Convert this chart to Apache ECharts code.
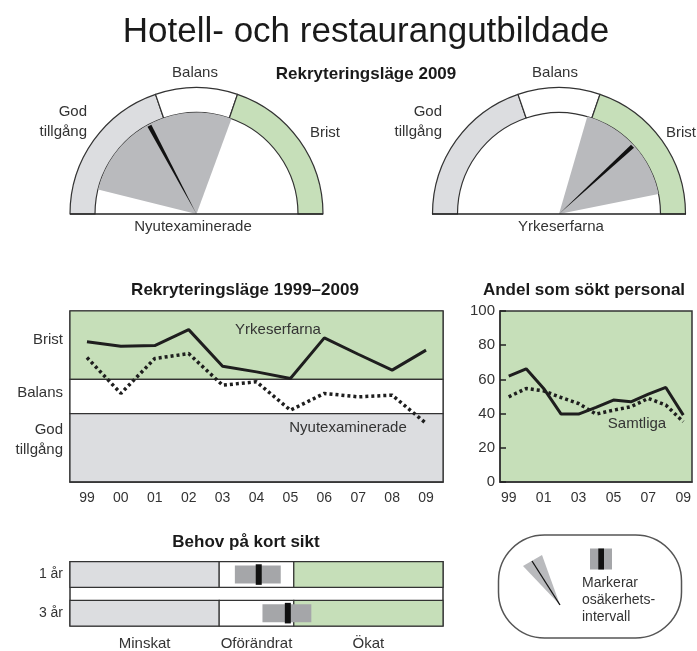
<!DOCTYPE html>
<html>
<head>
<meta charset="UTF-8">
<title>Hotell- och restaurangutbildade</title>
<script type="text/javascript" src="https://cdn.jsdelivr.net/npm/echarts@6/dist/echarts.min.js"></script>
<style>html,body{margin:0;padding:0;background:#fff}</style>
</head>
<body>
<div id="main" style="width:697px;height:651px"></div>
<script type="text/javascript">
// data
var years = ['99','00','01','02','03','04','05','06','07','08','09'];
var yrkeserfarna = [82, 79.4, 79.8, 89.1, 67.7, 64.4, 60.5, 84.3, 74.7, 65.4, 77.1];
var nyutexaminerade = [72.8, 51.8, 72.2, 75.1, 56.6, 58.6, 42, 51.8, 49.8, 50.8, 34.3];
var andelBransch = [61.9, 66.2, 54.7, 39.7, 39.7, 43.6, 47.9, 46.9, 51.4, 55.3, 39.1];
var andelSamtliga = [49.8, 54.7, 53.3, 49.4, 45.9, 39.7, 42, 44, 48.9, 45, 35.2];
var levelNames = ['Brist', 'Balans', 'God\ntillgång'];
var levelLabelAt = [83, 52, 24.5];
var levelBands = [40, 60];
var gaugeBands = [39.5, 60.5];
// 2009: [undre, läge, övre], 0 = god tillgång, 100 = brist
var gaugeNyutex = [7.8, 34.4, 61.2];
var gaugeYrkes = [59, 76.3, 93.7];
var behovRows = ['1 år', '3 år'];
var behovLo = [44.2, 51.6];
var behovValue = [50.6, 58.4];
var behovHi = [56.5, 64.7];
var behovNames = ['Minskat', 'Oförändrat', 'Ökat'];
var behovLabelAt = [20, 50, 80];

var GREEN = '#c6dfb9', GRAY = '#dcdde0', SECTOR = '#b9babd', BOX = '#a5a6a9', INK = '#1e1e1e', TXT = '#333';
var FONT = '"Liberation Sans", Arial, sans-serif';
var NONE = 'rgba(0,0,0,0)';

var myChart = echarts.init(document.getElementById('main'));

function gaugeSeries(center, g) {
    var deg = 1.8, w = 1.4;
    var base = {type: 'pie', center: center, silent: true, animation: false,
        label: {show: false}, labelLine: {show: false}, emphasis: {disabled: true}};
    var band = Object.assign({}, base, {
        radius: [101.5, 126.5], startAngle: 180,
        itemStyle: {borderColor: '#333', borderWidth: 1.2},
        data: [
            {value: gaugeBands[0], itemStyle: {color: GRAY}},
            {value: gaugeBands[1] - gaugeBands[0], itemStyle: {color: '#fff'}},
            {value: 100 - gaugeBands[1], itemStyle: {color: GREEN}},
            {value: 100, itemStyle: {color: NONE, borderWidth: 0}}
        ]
    });
    var sector = Object.assign({}, base, {
        radius: [0, 101.5], startAngle: 180 - g[0] * deg,
        data: [
            {value: g[2] - g[0], itemStyle: {color: SECTOR}},
            {value: 200 - (g[2] - g[0]), itemStyle: {color: NONE}}
        ]
    });
    var needle = Object.assign({}, base, {
        radius: [0, 100], startAngle: 180 - (g[1] - w / 2) * deg,
        data: [
            {value: w, itemStyle: {color: '#111'}},
            {value: 200 - w, itemStyle: {color: NONE}}
        ]
    });
    return [band, sector, needle];
}

function txt(x, y, s, size, opt) {
    opt = opt || {};
    return {type: 'text', x: x, y: y, silent: true, z: 10, style: {
        text: s, fontSize: size, fontFamily: FONT, fontWeight: opt.bold ? 'bold' : 'normal',
        fill: opt.fill || TXT, align: opt.align || 'center', verticalAlign: 'middle',
        lineHeight: opt.lh || size + 3
    }};
}

function renderBehov(params, api) {
    var row = api.value(0);
    var y0 = row * 0.6, y1 = y0 + 0.4;
    var top = api.coord([0, y0])[1], bot = api.coord([0, y1])[1];
    var h = bot - top;
    var edges = [0, levelBands[0], levelBands[1], 100];
    var cols = [GRAY, '#fff', GREEN];
    var children = [];
    for (var i = 0; i < 3; i++) {
        var xa = api.coord([edges[i], y0])[0], xb = api.coord([edges[i + 1], y0])[0];
        children.push({type: 'rect', shape: {x: xa, y: top, width: xb - xa, height: h},
            style: {fill: cols[i], stroke: '#333', lineWidth: 1.2}});
    }
    var lo = api.coord([api.value(1), y0])[0], hi = api.coord([api.value(3), y0])[0];
    var v = api.coord([api.value(2), y0])[0];
    children.push({type: 'rect', shape: {x: lo, y: top + h * 0.15, width: hi - lo, height: h * 0.7}, style: {fill: BOX}});
    children.push({type: 'rect', shape: {x: v - 3, y: top + h * 0.1, width: 6, height: h * 0.8}, style: {fill: '#111'}});
    return {type: 'group', children: children};
}

var axisText = {color: TXT, fontSize: 14, fontFamily: FONT};

option = {
    animation: false,
    grid: [
        {left: 70, top: 311, width: 373, height: 171, show: true, borderColor: '#333', borderWidth: 1.5, backgroundColor: '#fff'},
        {left: 500, top: 311, width: 192, height: 171, show: true, borderColor: '#333', borderWidth: 1.5, backgroundColor: GREEN},
        {left: 70, top: 561.7, width: 373, height: 66.6, show: true, borderColor: '#333', borderWidth: 1.5, backgroundColor: '#fff'}
    ],
    xAxis: [
        {gridIndex: 0, type: 'category', data: years, boundaryGap: true, z: 5,
            axisLine: {lineStyle: {color: '#333', width: 1.5}},
            axisTick: {inside: true, length: 7, interval: 0, lineStyle: {color: '#222', width: 1.5}},
            axisLabel: Object.assign({margin: 9, interval: 0}, axisText)},
        {gridIndex: 1, type: 'category', data: years, boundaryGap: true, z: 5,
            axisLine: {lineStyle: {color: '#333', width: 1.5}},
            axisTick: {inside: true, length: 6, interval: 0, lineStyle: {color: '#222', width: 1.5}},
            axisLabel: Object.assign({margin: 9, interval: 1}, axisText)},
        {gridIndex: 2, type: 'value', min: 0, max: 100,
            axisLine: {show: false}, axisTick: {show: false}, splitLine: {show: false},
            axisLabel: Object.assign({}, axisText, {margin: 10, customValues: behovLabelAt, fontSize: 15,
                formatter: function (v) { return behovNames[behovLabelAt.indexOf(v)]; }})}
    ],
    yAxis: [
        {gridIndex: 0, type: 'value', min: 0, max: 100,
            axisLine: {show: false}, axisTick: {show: false}, splitLine: {show: false},
            axisLabel: Object.assign({}, axisText, {fontSize: 15, margin: 7, customValues: levelLabelAt, lineHeight: 20,
                formatter: function (v) { return levelNames[levelLabelAt.indexOf(v)]; }})},
        {gridIndex: 1, type: 'value', min: 0, max: 100, interval: 20, z: 5,
            axisLine: {show: true, lineStyle: {color: '#333', width: 1.5}},
            axisTick: {show: true, inside: true, length: 6, lineStyle: {color: '#222', width: 1.5}},
            splitLine: {show: false},
            axisLabel: Object.assign({}, axisText, {fontSize: 15, margin: 5})},
        {gridIndex: 2, type: 'value', min: 0, max: 1, inverse: true,
            axisLine: {show: false}, axisTick: {show: false}, splitLine: {show: false},
            axisLabel: Object.assign({}, axisText, {margin: 7,
                customValues: behovRows.map(function (r, i) { return i * 0.6 + 0.2; }),
                formatter: function (v) { return behovRows[v < 0.5 ? 0 : 1]; }})}
    ],
    series: [].concat(
        gaugeSeries([196.5, 214], gaugeNyutex),
        gaugeSeries([559, 214], gaugeYrkes),
        [
            {name: 'Yrkeserfarna', type: 'line', xAxisIndex: 0, yAxisIndex: 0, data: yrkeserfarna,
                symbol: 'none', z: 3, lineStyle: {color: INK, width: 3},
                markArea: {silent: true, itemStyle: {borderColor: '#333', borderWidth: 1.2},
                    data: [
                        [{yAxis: levelBands[1], itemStyle: {color: GREEN}}, {yAxis: 100}],
                        [{yAxis: levelBands[0], itemStyle: {color: '#fff'}}, {yAxis: levelBands[1]}],
                        [{yAxis: 0, itemStyle: {color: GRAY}}, {yAxis: levelBands[0]}]
                    ]}},
            {name: 'Nyutexaminerade', type: 'line', xAxisIndex: 0, yAxisIndex: 0, data: nyutexaminerade,
                symbol: 'none', z: 3, lineStyle: {color: INK, width: 3.5, type: [3, 3]}},
            {name: 'Branschen', type: 'line', xAxisIndex: 1, yAxisIndex: 1, data: andelBransch,
                symbol: 'none', z: 3, lineStyle: {color: INK, width: 3}},
            {name: 'Samtliga', type: 'line', xAxisIndex: 1, yAxisIndex: 1, data: andelSamtliga,
                symbol: 'none', z: 3, lineStyle: {color: INK, width: 3.5, type: [3, 3]}},
            {name: 'Behov', type: 'custom', xAxisIndex: 2, yAxisIndex: 2, silent: true,
                renderItem: renderBehov, encode: {x: [1, 2, 3], y: 0},
                data: behovRows.map(function (r, i) { return [i, behovLo[i], behovValue[i], behovHi[i]]; })}
        ]
    ),
    graphic: [
        txt(366, 32, 'Hotell- och restaurangutbildade', 35, {fill: '#1a1a1a'}),
        txt(366, 74, 'Rekryteringsläge 2009', 17, {bold: true, fill: '#1a1a1a'}),
        // gauge 1
        txt(195, 73, 'Balans', 15),
        txt(87, 112, 'God', 15, {align: 'right'}),
        txt(87, 132, 'tillgång', 15, {align: 'right'}),
        txt(310, 133, 'Brist', 15, {align: 'left'}),
        txt(193, 227, 'Nyutexaminerade', 15),
        {type: 'line', shape: {x1: 70, y1: 214, x2: 323, y2: 214}, style: {stroke: '#222', lineWidth: 1.5}, z: 10},
        // gauge 2
        txt(555, 73, 'Balans', 15),
        txt(442, 112, 'God', 15, {align: 'right'}),
        txt(442, 132, 'tillgång', 15, {align: 'right'}),
        txt(666, 133, 'Brist', 15, {align: 'left'}),
        txt(561, 227, 'Yrkeserfarna', 15),
        {type: 'line', shape: {x1: 432, y1: 214, x2: 686, y2: 214}, style: {stroke: '#222', lineWidth: 1.5}, z: 10},
        // line charts
        txt(245, 290, 'Rekryteringsläge 1999–2009', 17, {bold: true, fill: '#1a1a1a'}),
        txt(278, 330, 'Yrkeserfarna', 15),
        txt(348, 428, 'Nyutexaminerade', 15),
        txt(584, 290, 'Andel som sökt personal', 17, {bold: true, fill: '#1a1a1a'}),
        txt(637, 424, 'Samtliga', 15),
        // behov
        txt(246, 542, 'Behov på kort sikt', 17, {bold: true, fill: '#1a1a1a'}),
        // legend box
        {type: 'rect', shape: {x: 498.5, y: 535, width: 183, height: 103, r: 46}, style: {fill: '#fff', stroke: '#555', lineWidth: 1.5}, z: 5},
        {type: 'polygon', shape: {points: [[523, 566], [542, 555], [560, 605]]}, style: {fill: SECTOR}, z: 6},
        {type: 'line', shape: {x1: 532, y1: 561, x2: 560, y2: 605}, style: {stroke: '#111', lineWidth: 1.3}, z: 7},
        {type: 'rect', shape: {x: 590, y: 548.5, width: 22, height: 21}, style: {fill: BOX}, z: 6},
        {type: 'rect', shape: {x: 598.3, y: 548.5, width: 5.7, height: 21}, style: {fill: '#111'}, z: 7},
        txt(582, 600, 'Markerar\nosäkerhets-\nintervall', 14, {align: 'left', lh: 17})
    ]
};
myChart.setOption(option);
</script>
</body>
</html>
